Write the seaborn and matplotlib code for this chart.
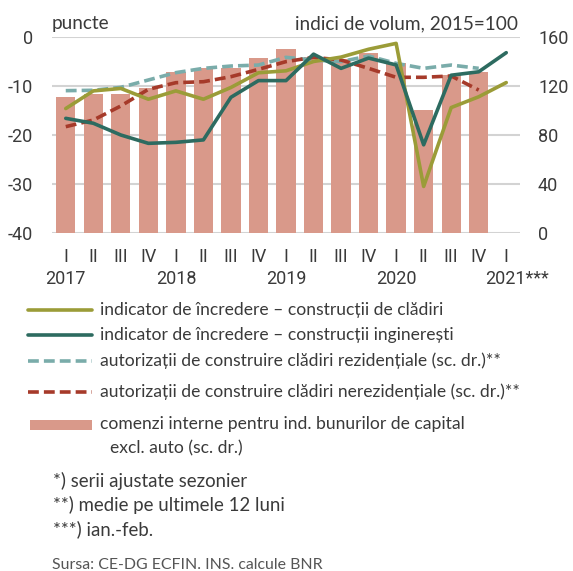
import numpy as np
import pandas as pd
import matplotlib
matplotlib.use("Agg")
import matplotlib.pyplot as plt
import seaborn as sns
from matplotlib.lines import Line2D
from matplotlib.patches import Rectangle
from matplotlib.transforms import blended_transform_factory

nan = np.nan
quarters = ["I", "II", "III", "IV"] * 4 + ["I"]
years = ["2017", "2018", "2019", "2020", "2021***"]
year_pos = [0, 4, 8, 12, 16]

cladiri = [-14.6, -11.0, -10.5, -12.7, -11.0, -12.7, -10.3, -7.3, -6.9,
           -5.0, -4.1, -2.5, -1.3, -30.5, -14.4, -12.2, -9.3]
ingineresti = [-16.6, -17.6, -20.0, -21.7, -21.5, -21.0, -12.3, -8.9, -8.9,
               -3.5, -6.4, -4.3, -5.7, -22.0, -7.8, -7.1, -3.2]
rezidentiale = [116.2, 116.5, 118.9, 124.9, 130.9, 134.4, 136.3, 137.1, 143.4,
                141.2, 139.9, 144.5, 138.5, 134.4, 137.1, 134.4, nan]
nerezidentiale = [86.8, 92.2, 103.7, 117.3, 122.7, 123.5, 127.6, 133.6, 139.9,
                  143.4, 141.2, 134.4, 127.1, 127.1, 128.2, 116.7, nan]
comenzi = [110.8, 113.5, 113.5, 118.0, 131.7, 135.0, 134.4, 142.9, 150.2,
           144.0, 141.8, 147.0, 138.5, 100.4, 129.0, 131.7, nan]

labels = [
    "indicator de încredere – construcții de clădiri",
    "indicator de încredere – construcții inginerești",
    "autorizații de construire clădiri rezidențiale (sc. dr.)**",
    "autorizații de construire clădiri nerezidențiale (sc. dr.)**",
    "comenzi interne pentru ind. bunurilor de capital",
    "excl. auto (sc. dr.)",
]
notes = ["*) serii ajustate sezonier", "**) medie pe ultimele 12 luni", "***) ian.-feb."]
source = "Sursa: CE-DG ECFIN. INS. calcule BNR"

c_olive = "#9b9c38"
c_dark = "#2d6b60"
c_teal = "#7aacaa"
c_red = "#a63a2a"
c_bar = "#d9998a"
c_text = "#3a3a3a"

sns.set_style("white")
text_font = ["Lato", "DejaVu Sans"]
tick_font = ["Liberation Sans Narrow", "Roboto", "DejaVu Sans"]
plt.rcParams["font.family"] = text_font
plt.rcParams["axes.unicode_minus"] = False

df = pd.DataFrame({
    "pos": np.arange(len(quarters)),
    "cladiri": cladiri,
    "ingineresti": ingineresti,
    "rezidentiale": rezidentiale,
    "nerezidentiale": nerezidentiale,
    "comenzi": comenzi,
})

W, H = 573, 571
fig = plt.figure(figsize=(W / 100, H / 100), dpi=100)
ax = fig.add_axes([52 / W, 1 - 233 / H, 468 / W, 196 / H])

sns.barplot(data=df, x="pos", y="comenzi", native_scale=True, width=0.7,
            color=c_bar, saturation=1, errorbar=None, linewidth=0, ax=ax)
dash = (0, (3.0, 1.4))
sns.lineplot(data=df, x="pos", y="rezidentiale", color=c_teal, lw=2.6,
             linestyle=dash, ax=ax)
sns.lineplot(data=df, x="pos", y="nerezidentiale", color=c_red, lw=2.6,
             linestyle=dash, ax=ax)

ax2 = ax.twinx()
sns.lineplot(data=df, x="pos", y="cladiri", color=c_olive, lw=2.6, ax=ax2)
sns.lineplot(data=df, x="pos", y="ingineresti", color=c_dark, lw=2.6, ax=ax2)

ax.set_xlim(-0.5, 16.5)
ax.set_ylim(0, 160)
ax2.set_ylim(-40, 0)
ax.set_yticks([0, 40, 80, 120, 160])
ax2.set_yticks([-40, -30, -20, -10, 0])
ax.yaxis.tick_right()
ax2.yaxis.tick_left()
for a in (ax, ax2):
    a.set_xlabel("")
    a.set_ylabel("")
    for s in a.spines.values():
        s.set_visible(False)

ax.set_axisbelow(True)
ax.grid(axis="y", color="#d3d3d3", lw=1.5)
ax.grid(axis="x", visible=False)

ax.set_xticks(df["pos"])
ax.set_xticklabels(quarters)
ax.tick_params(axis="x", length=0, pad=10.5, labelsize=13, labelcolor=c_text)
ax.tick_params(axis="y", length=0, pad=13, labelsize=13, labelcolor=c_text)
ax2.tick_params(axis="y", length=0, pad=13.5, labelsize=13, labelcolor=c_text)
for t in ax.get_xticklabels() + ax.get_yticklabels() + ax2.get_yticklabels():
    t.set_fontfamily(tick_font)

tr = blended_transform_factory(ax.transData, ax.transAxes)
for yr, p in zip(years, year_pos):
    if yr.endswith("*"):
        ax.text(p - 0.77, -0.235, yr, transform=tr, ha="left", va="center",
                fontsize=13, color=c_text, family=tick_font)
    else:
        ax.text(p, -0.235, yr, transform=tr, ha="center", va="center",
                fontsize=13, color=c_text, family=tick_font)

fig.text(52 / W, 1 - 24 / H, "puncte", ha="left", va="center",
         fontsize=13.7, color=c_text)
fig.text(518 / W, 1 - 24 / H, "indici de volum, 2015=100", ha="right",
         va="center", fontsize=13.7, color=c_text)

# legend
leg_y = [310, 335, 361, 392]
styles = [(c_olive, "-"), (c_dark, "-"), (c_teal, dash), (c_red, dash)]
for y, (c, ls), lab in zip(leg_y, styles, labels[:4]):
    fig.add_artist(Line2D([28 / W, 92 / W], [1 - y / H, 1 - y / H],
                          transform=fig.transFigure, color=c, lw=2.6,
                          linestyle=ls))
    fig.text(100 / W, 1 - y / H, lab, ha="left", va="center", fontsize=12.6,
             color=c_text)
fig.add_artist(Rectangle((30 / W, 1 - 430 / H), 62 / W, 10 / H,
                         transform=fig.transFigure, color=c_bar, lw=0))
fig.text(100 / W, 1 - 424 / H, labels[4], ha="left", va="center",
         fontsize=12.6, color=c_text)
fig.text(110 / W, 1 - 448 / H, labels[5], ha="left", va="center",
         fontsize=12.6, color=c_text)

for y, n in zip([481, 505, 529], notes):
    fig.text(53 / W, 1 - y / H, n, ha="left", va="center", fontsize=13.4,
             color=c_text)
fig.text(52 / W, 1 - 565 / H, source, ha="left", va="center", fontsize=11.4,
         color="#555555")

fig.savefig("out.png", dpi=100)
